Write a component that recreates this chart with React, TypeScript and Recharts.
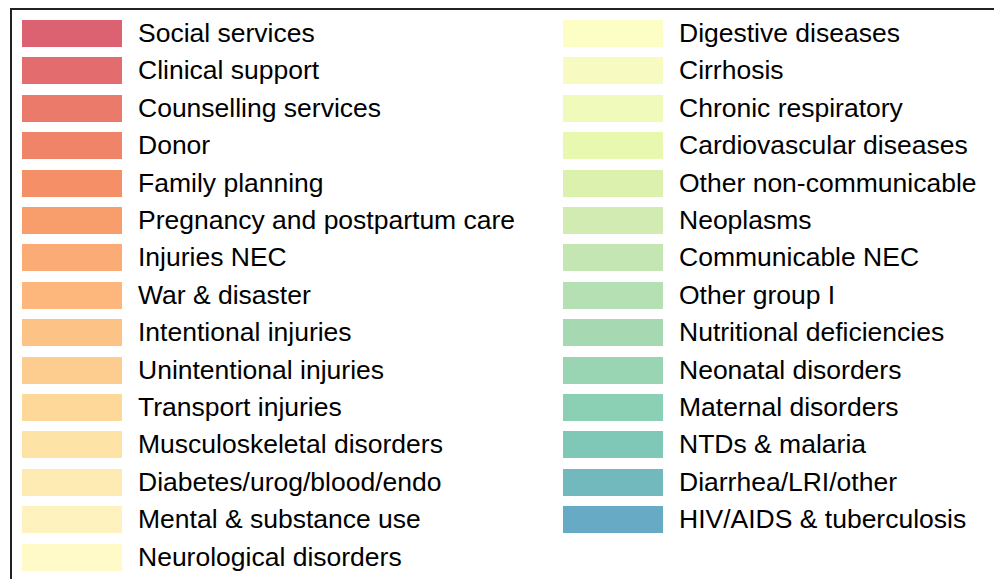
import React from "react";
import { BarChart, Bar, XAxis, YAxis, Legend } from "recharts";

const leftLabels = [
  "Social services",
  "Clinical support",
  "Counselling services",
  "Donor",
  "Family planning",
  "Pregnancy and postpartum care",
  "Injuries NEC",
  "War & disaster",
  "Intentional injuries",
  "Unintentional injuries",
  "Transport injuries",
  "Musculoskeletal disorders",
  "Diabetes/urog/blood/endo",
  "Mental & substance use",
  "Neurological disorders",
];

const leftColors = [
  "#dc6272",
  "#e36d6e",
  "#ec7a6b",
  "#f08468",
  "#f58f67",
  "#f89d6c",
  "#fbab75",
  "#fdb77c",
  "#fdc286",
  "#fdcd8f",
  "#fed898",
  "#fee3a6",
  "#feebb3",
  "#fef3bf",
  "#fffac8",
];

const rightLabels = [
  "Digestive diseases",
  "Cirrhosis",
  "Chronic respiratory",
  "Cardiovascular diseases",
  "Other non-communicable",
  "Neoplasms",
  "Communicable NEC",
  "Other group I",
  "Nutritional deficiencies",
  "Neonatal disorders",
  "Maternal disorders",
  "NTDs & malaria",
  "Diarrhea/LRI/other",
  "HIV/AIDS & tuberculosis",
];

const rightColors = [
  "#fdfdc6",
  "#f7fbc2",
  "#effabb",
  "#e8f8ae",
  "#dcf1ad",
  "#d1ebb2",
  "#c4e6b3",
  "#b5e0b3",
  "#a6d9b2",
  "#99d5b3",
  "#8bcfb4",
  "#7fc8b8",
  "#72b9be",
  "#66aac6",
];

const allLabels = [...leftLabels, ...rightLabels];
const allColors = [...leftColors, ...rightColors];

// a single empty row, the chart only exists to feed the legend
const data = [
  allLabels.reduce<Record<string, number | string>>(
    (row, label) => {
      row[label] = 0;
      return row;
    },
    { name: "total" }
  ),
];

const ROW_STEP = 37.4;

function TwoColumnLegend(props: any) {
  // recharts sorts legend items by name, put them back in series order
  const items: any[] = [...(props.payload ?? [])].sort(
    (a, b) => allLabels.indexOf(a.value) - allLabels.indexOf(b.value)
  );
  const columns = [items.slice(0, leftLabels.length), items.slice(leftLabels.length)];
  const colX = [10, 551];

  return (
    <div
      style={{
        position: "relative",
        width: 986,
        height: 600,
        border: "2px solid #222",
        boxSizing: "border-box",
        background: "#fff",
      }}
    >
      {columns.map((col, c) =>
        col.map((entry, i) => (
          <div
            key={`${c}-${i}`}
            style={{
              position: "absolute",
              left: colX[c],
              top: 10 + i * ROW_STEP,
              height: 27,
              display: "flex",
              alignItems: "center",
              whiteSpace: "nowrap",
            }}
          >
            <div style={{ width: 100, height: 27, background: entry.color }} />
            <span
              style={{
                marginLeft: 16,
                fontFamily: "'Liberation Sans', Arial, sans-serif",
                fontSize: 26.5,
                lineHeight: "27px",
                color: "#000",
              }}
            >
              {entry.value}
            </span>
          </div>
        ))
      )}
    </div>
  );
}

export default function App() {
  return (
    <div style={{ width: 994, height: 571, overflow: "hidden", position: "relative" }}>
      <BarChart width={994} height={571} data={data} margin={{ top: 0, right: 0, bottom: 0, left: 0 }}>
        <XAxis dataKey="name" hide />
        <YAxis hide />
        <Legend
          content={TwoColumnLegend}
          wrapperStyle={{ left: 2, top: 0, width: 986 }}
        />
        {allLabels.map((label, i) => (
          <Bar key={label} dataKey={label} name={label} fill={allColors[i]} isAnimationActive={false} />
        ))}
      </BarChart>
    </div>
  );
}
